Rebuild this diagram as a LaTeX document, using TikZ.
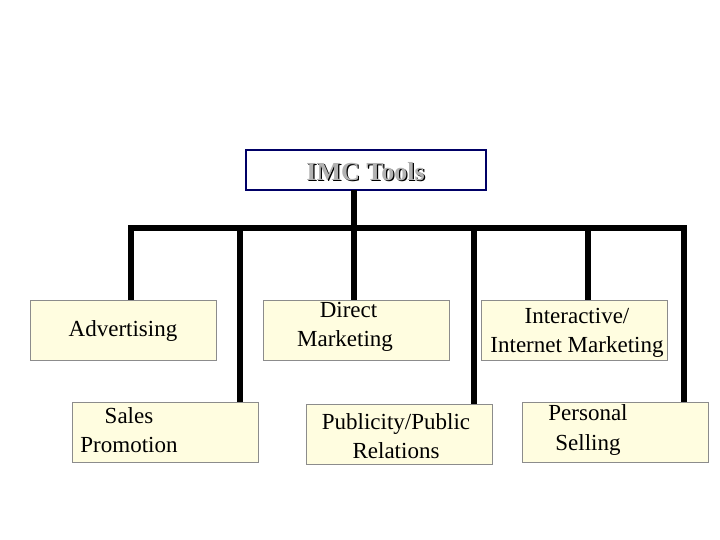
\documentclass[tikz,border=0pt]{standalone}
\usepackage{fontspec}
\setmainfont{Liberation Serif}
\begin{document}
\begin{tikzpicture}[x=1pt,y=-1pt,
  tool/.style={draw=black!45,fill=yellow!12,line width=0.8pt,minimum width=186pt,minimum height=60pt,inner sep=0pt},
  lbl/.style={align=center,font=\fontsize{23}{29}\selectfont,inner sep=0pt},
  bar/.style={line width=6pt},
  title/.style={draw=blue!40!black,line width=2.5pt,fill=white,minimum width=240pt,minimum height=40pt}]
\useasboundingbox (0,0) rectangle (720,540);
\node[title] (t) at (366,170) {};
\node[text=black] (ts) at (366.8,172.8) {\fontsize{26}{30}\selectfont\bfseries IMC Tools};
\node[text=gray!60] (tt) at (365.5,171.5) {\fontsize{26}{30}\selectfont\bfseries IMC Tools};
\coordinate (tb) at (354,190);
\coordinate (bl) at (128,228);
\coordinate (br) at (687,228);
\coordinate (b1) at (131,228);\coordinate (b2) at (240,228);\coordinate (b3) at (354,228);
\coordinate (b4) at (474,228);\coordinate (b5) at (588,228);\coordinate (b6) at (684,228);
\coordinate (e1) at (131,300);\coordinate (e2) at (240,402);\coordinate (e3) at (354,300);
\coordinate (e4) at (474,405);\coordinate (e5) at (588,300);\coordinate (e6) at (684,402);
\draw[bar] (tb) -- (b3);
\draw[bar] (bl) -- (br);
\foreach \i in {1,...,6} \draw[bar] (b\i) -- (e\i);
\node[tool] (adv) at (123,330) {};
\node[tool] (dm) at (356,330) {};
\node[tool] (im) at (574,330) {};
\node[tool] (sp) at (165,432) {};
\node[tool] (pr) at (399,434) {};
\node[tool] (ps) at (615,432) {};
\node[lbl] (advl) at (123,331) {Advertising};
\node[lbl] (dml) at (345,327) {\hspace*{7pt}Direct\\Marketing};
\node[lbl] (iml) at (577,333) {Interactive/\\Internet Marketing};
\node[lbl] (spl) at (129,430) {Sales\\Promotion};
\node[lbl] (prl) at (396,436) {Publicity/Public\\Relations};
\node[lbl] (psl) at (588,430) {Personal\\Selling};
\end{tikzpicture}
\end{document}
